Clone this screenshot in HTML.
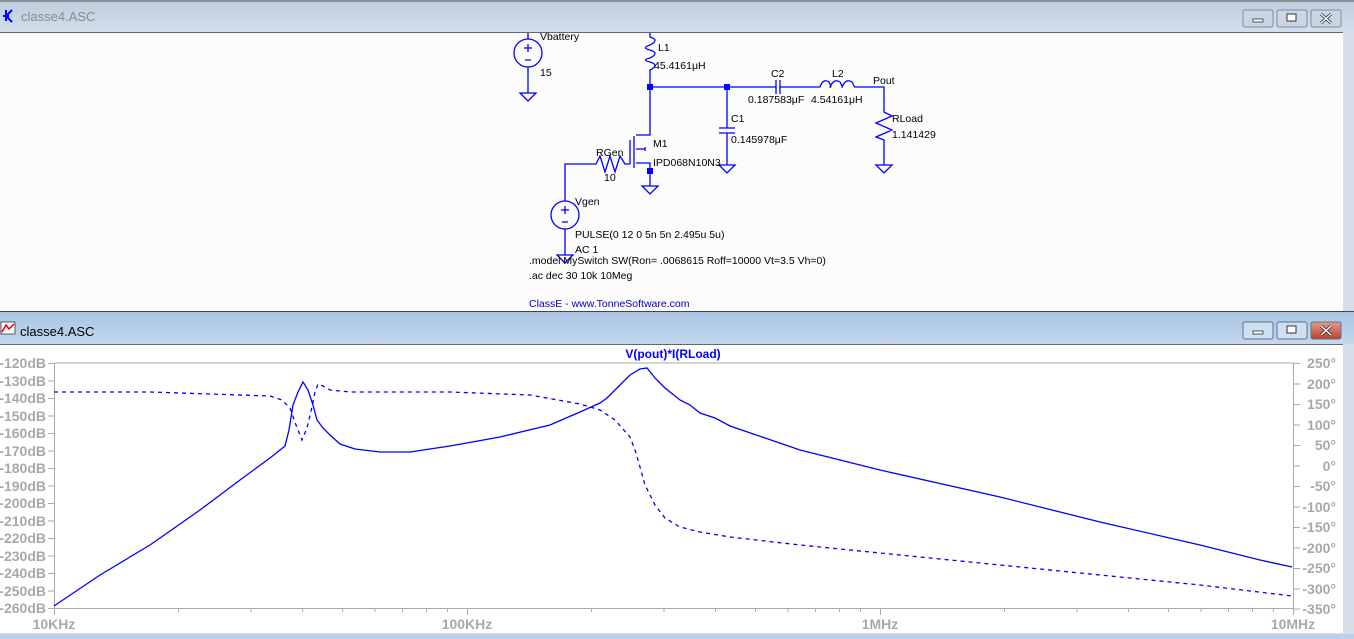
<!DOCTYPE html>
<html><head><meta charset="utf-8"><style>
html,body{margin:0;padding:0;background:#fff;overflow:hidden}
svg{display:block}
text{font-family:"Liberation Sans",sans-serif}
</style></head><body>
<svg width="1354" height="639" viewBox="0 0 1354 639" xmlns="http://www.w3.org/2000/svg">
<defs>
<linearGradient id="t1" x1="0" y1="0" x2="0" y2="1"><stop offset="0" stop-color="#bccbdb"/><stop offset="1" stop-color="#d3e0ec"/></linearGradient>
<linearGradient id="t2" x1="0" y1="0" x2="0" y2="1"><stop offset="0" stop-color="#a9c3df"/><stop offset="1" stop-color="#c3d8ee"/></linearGradient>
<linearGradient id="rx" x1="0" y1="0" x2="0" y2="1"><stop offset="0" stop-color="#e49a8a"/><stop offset="1" stop-color="#c0402a"/></linearGradient>
</defs>
<rect width="1354" height="639" fill="#d6dfe9"/>
<!-- window 1 -->
<rect x="0" y="0" width="1354" height="32" fill="url(#t1)"/>
<line x1="0" y1="1" x2="1354" y2="1" fill="none" stroke="#555" stroke-width="1"/>
<path d="M6 10 L6 21 M3 16 L9 16 M12 10 L7 15 M7 17 L12 22" stroke="#0000ff" stroke-width="2" fill="none"/>
<text x="21" y="21" font-size="13" fill="#8a8a8a">classe4.ASC</text>
<g fill="#c9d6e4" stroke="#7b8ba0"><rect x="1243" y="10" width="30" height="17" rx="2"/><rect x="1277" y="10" width="30" height="17" rx="2"/><rect x="1311" y="10" width="30" height="17" rx="2"/></g>
<rect x="1253" y="19" width="10" height="3" fill="#fff" stroke="#333" stroke-width="0.8"/>
<rect x="1287" y="14" width="9" height="7" fill="#fff" stroke="#333" stroke-width="1"/>
<path d="M1321 14 L1331 23 M1331 14 L1321 23" stroke="#333" stroke-width="3"/><path d="M1321 14 L1331 23 M1331 14 L1321 23" stroke="#fff" stroke-width="1.4"/>
<rect x="0" y="32" width="1343" height="279" fill="#fcfcfc"/>
<line x1="0" y1="32.5" x2="1343" y2="32.5" stroke="#666"/>
<!-- schematic -->
<g stroke="#0000ff" stroke-width="1.3" fill="none">
<circle cx="528" cy="53" r="14"/>
<path d="M528 39 V33 M528 67 V93 M520 93 H536 L528 101 Z"/>
<path d="M524 48 H532 M528 44 V52 M525 60 H531"/>
<path d="M650 33 V37 Q660 40 650 45 Q641 48 650 50 Q660 53 650 58 Q641 60 650 62 Q660 65 650 70 V87 H770 M776 80 V94 M780 80 V94 M776 87 H770 M780 87 H820 Q823 78 829 82 Q832 88 830 87 Q834 78 840 82 Q843 88 842 87 Q846 78 852 82 Q855 88 855 87 H884 V112 L892 116 L876 123 L892 130 L876 137 L884 140 V165 M876 165 H892 L884 173 Z"/>
<path d="M727 87 V128 M719 128 H735 M719 133 H735 M727 133 V165 M719 165 H735 L727 173 Z"/>
<path d="M650 87 V135 H636 M634 136 V168 M630 140 V164 M636 163 H650 V186 M642 186 H658 L650 194 Z M636 149 H645 M645 147 V151"/>
<path d="M630 164 H625 L620 156 L615 172 L610 156 L605 172 L600 156 L596 164 H565 V201 M565 229 V255 M557 255 H573 L565 263 Z"/>
<circle cx="565" cy="215" r="14"/>
<path d="M561 210 H569 M565 206 V214 M562 222 H568"/>
</g>
<g fill="#0000ff"><rect x="647" y="84" width="6" height="6"/><rect x="724" y="84" width="6" height="6"/><rect x="647" y="168" width="6" height="6"/></g>
<g font-size="10.5" fill="#000">
<text x="540" y="40">Vbattery</text><text x="540" y="76">15</text>
<text x="658" y="51">L1</text><text x="654" y="69">45.4161μH</text>
<text x="771" y="77">C2</text><text x="748" y="103">0.187583μF</text>
<text x="832" y="77">L2</text><text x="811" y="103">4.54161μH</text>
<text x="873" y="84">Pout</text>
<text x="892" y="122">RLoad</text><text x="892" y="138">1.141429</text>
<text x="731" y="122">C1</text><text x="731" y="143">0.145978μF</text>
<text x="653" y="147">M1</text><text x="653" y="166">IPD068N10N3</text>
<text x="596" y="156">RGen</text><text x="604" y="181">10</text>
<text x="575" y="205">Vgen</text>
<text x="575" y="238">PULSE(0 12 0 5n 5n 2.495u 5u)</text>
<text x="575" y="253">AC 1</text>
<text x="529" y="264">.model MySwitch SW(Ron= .0068615 Roff=10000 Vt=3.5 Vh=0)</text>
<text x="529" y="279">.ac dec 30 10k 10Meg</text>
<text x="529" y="307" fill="#0000cc">ClassE - www.TonneSoftware.com</text>
</g>
<!-- window 2 -->
<line x1="0" y1="311.5" x2="1354" y2="311.5" stroke="#444"/>
<rect x="0" y="312" width="1354" height="32" fill="url(#t2)"/>
<rect x="1" y="322" width="14" height="12" fill="#fff" stroke="#333" stroke-width="0.8"/>
<path d="M2 332 L6 325 L9 329 L14 324" stroke="#e00" stroke-width="1.5" fill="none"/>
<text x="20" y="336" font-size="13" fill="#000">classe4.ASC</text>
<g stroke="#5b7393"><rect x="1243" y="322" width="30" height="17" rx="2" fill="#cfe0f1"/><rect x="1277" y="322" width="30" height="17" rx="2" fill="#cfe0f1"/><rect x="1311" y="322" width="30" height="17" rx="2" fill="url(#rx)"/></g>
<rect x="1253" y="331" width="10" height="3" fill="#fff" stroke="#333" stroke-width="0.8"/>
<rect x="1287" y="326" width="9" height="7" fill="#fff" stroke="#333" stroke-width="1"/>
<path d="M1321 326 L1331 335 M1331 326 L1321 335" stroke="#333" stroke-width="3"/><path d="M1321 326 L1331 335 M1331 326 L1321 335" stroke="#fff" stroke-width="1.4"/>
<rect x="0" y="344" width="1343" height="289" fill="#fff"/>
<line x1="0" y1="344.5" x2="1343" y2="344.5" stroke="#666"/>
<rect x="0" y="634" width="1354" height="5" fill="#b9d1ea"/>
<text x="673" y="358" font-size="12" font-weight="bold" fill="#0000ff" text-anchor="middle">V(pout)*I(RLoad)</text>
<!-- axes -->
<g stroke="#aaa" fill="none">
<path d="M54.5 363 V608.5 H1293.5 V363 H54.5"/>
<path d="M48 363.5H54 M48 381H54 M48 398.5H54 M48 416H54 M48 433.5H54 M48 451H54 M48 468.5H54 M48 486H54 M48 503.5H54 M48 521H54 M48 538.5H54 M48 556H54 M48 573.5H54 M48 591H54 M48 608.5H54"/>
<path d="M1294 363.5H1300 M1294 384H1300 M1294 404.5H1300 M1294 425H1300 M1294 445.5H1300 M1294 466H1300 M1294 486.5H1300 M1294 507H1300 M1294 527.5H1300 M1294 548H1300 M1294 568.5H1300 M1294 589H1300 M1294 609H1300"/>
</g>
<g stroke="#aaa">
<path d="M54.5 608V615 M178.5 608V612 M251 608V612 M302.5 608V612 M342.5 608V612 M375 608V612 M402.5 608V612 M426.5 608V612 M447.5 608V612 M467.5 608V615 M591.5 608V612 M664 608V612 M715.5 608V612 M755.5 608V612 M788 608V612 M815.5 608V612 M839.5 608V612 M860.5 608V612 M880.5 608V615 M1004.5 608V612 M1077 608V612 M1128.5 608V612 M1168.5 608V612 M1201 608V612 M1228.5 608V612 M1252.5 608V612 M1273.5 608V612 M1293.5 608V615"/>
</g>
<g font-size="14" fill="#a8a8a8" font-weight="bold" text-anchor="end">
<text x="46" y="368">-120dB</text><text x="46" y="386">-130dB</text><text x="46" y="403">-140dB</text><text x="46" y="421">-150dB</text><text x="46" y="438">-160dB</text><text x="46" y="456">-170dB</text><text x="46" y="473">-180dB</text><text x="46" y="491">-190dB</text><text x="46" y="508">-200dB</text><text x="46" y="526">-210dB</text><text x="46" y="543">-220dB</text><text x="46" y="561">-230dB</text><text x="46" y="578">-240dB</text><text x="46" y="596">-250dB</text><text x="46" y="613">-260dB</text>
<text x="1336" y="368">250°</text><text x="1336" y="389">200°</text><text x="1336" y="409">150°</text><text x="1336" y="430">100°</text><text x="1336" y="450">50°</text><text x="1336" y="471">0°</text><text x="1336" y="491">-50°</text><text x="1336" y="512">-100°</text><text x="1336" y="532">-150°</text><text x="1336" y="553">-200°</text><text x="1336" y="573">-250°</text><text x="1336" y="594">-300°</text><text x="1336" y="614">-350°</text>
</g>
<g font-size="14" fill="#a8a8a8" font-weight="bold" text-anchor="middle">
<text x="54" y="629">10KHz</text><text x="467" y="629">100KHz</text><text x="880" y="629">1MHz</text><text x="1293" y="629">10MHz</text>
</g>
<!-- curves -->
<polyline fill="none" stroke="#0000ff" stroke-width="1.3" points="54,606 100,575 150,545 200,510 240,480 270,458 285,446 289,430 293,405 298,392 303,382 308,390 313,405 317,420 323,428 330,435 340,444 355,449 380,452 410,452 450,446 500,437 550,425 580,412 600,403 607,398 620,385 630,375 640,369 647,368 655,378 665,388 680,400 690,405 700,413 715,418 730,426 800,450 880,470 1000,497 1100,522 1200,545 1260,560 1292,567"/>
<polyline fill="none" stroke="#0000ff" stroke-width="1.3" stroke-dasharray="4,4" points="54,392 150,392 270,396 282,400 290,408 296,425 302,440 307,428 312,407 315,392 318,384 323,386 330,390 350,392 450,392 530,395 580,404 600,410 615,420 630,437 635,450 640,467 645,485 655,505 665,518 680,527 700,532 730,537 800,545 900,555 1000,565 1100,575 1200,585 1292,596"/>
</svg>
</body></html>
